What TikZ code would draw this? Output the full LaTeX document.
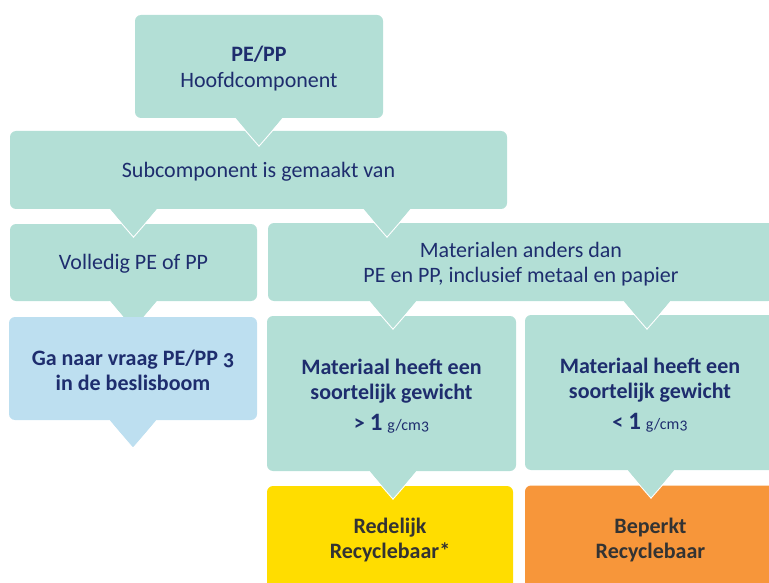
\documentclass[tikz,border=0pt]{standalone}
\usepackage{fontspec}
\setmainfont{Carlito}
\usetikzlibrary{calc}
\definecolor{tealbox}{HTML}{B3DFD6}
\definecolor{bluebox}{HTML}{BDDFF0}
\definecolor{yelbox}{HTML}{FFDD00}
\definecolor{orabox}{HTML}{F7963A}
\definecolor{navy}{HTML}{1E2D6E}
\definecolor{darktext}{HTML}{333333}
\begin{document}
\begin{tikzpicture}[x=1pt,y=-1pt,
  box/.style={rectangle, rounded corners=6pt, inner sep=0pt},
  tealnode/.style={box, fill=tealbox},
  txt/.style={inner sep=0pt, align=center, text=navy, font=\fontsize{22}{25.5}\selectfont},
  dtxt/.style={txt, text=darktext},
  pics/ptr/.style={code={
    \fill[#1] (-24,-1) -- (24,-1) -- (0,28) -- cycle;
    \draw[white, line width=0.9pt, line join=miter] (-24,0.5) -- (0,28) -- (24,0.5);
  }}]
\useasboundingbox (0,0) rectangle (769,583);
\clip (0,0) rectangle (769,583);
% level 1
\node[tealnode, minimum width=248pt, minimum height=103pt] (top) at (259,66.5) {};
\node[txt] (topT) at ($(top.center)+(0,2)$) {{\bfseries PE/PP}\\Hoofdcomponent};
\node[tealnode, minimum width=497pt, minimum height=78pt] (sub) at (258.5,170) {};
\node[txt] (subT) at ($(sub.center)+(0,2)$) {Subcomponent is gemaakt van};
\pic at (top.south) {ptr=tealbox};
% level 2
\node[tealnode, minimum width=247pt, minimum height=77pt] (voll) at (133.5,262.5) {};
\node[txt] (vollT) at ($(voll.center)+(0,1.5)$) {Volledig PE of PP};
\node[tealnode, minimum width=506pt, minimum height=78pt] (mat) at (521,262) {};
\node[txt] (matT) at ($(mat.center)+(0,2)$) {Materialen anders dan\\PE en PP, inclusief metaal en papier};
\pic at (voll.north |- sub.south) {ptr=tealbox};
\pic at ($(sub.south)+(128.5,0)$) {ptr=tealbox};
% level 3
\pic at (voll.south) {ptr=tealbox};
\node[box, fill=bluebox, minimum width=248pt, minimum height=103pt] (ga) at (133,368.5) {};
\node[txt, font=\fontsize{22}{25}\bfseries] (gaT) at ($(ga.center)+(0,1.5)$)
  {Ga naar vraag PE/PP {\addfontfeatures{Numbers=OldStyle}3}\\in de beslisboom};
\node[tealnode, minimum width=249pt, minimum height=155pt] (m1) at (391.5,393.5) {};
\node[txt, font=\fontsize{22}{25}\bfseries] (m1T) at ($(m1.center)+(0,3)$)
  {Materiaal heeft een\\soortelijk gewicht\\[6pt]
   > {\fontsize{25}{28}\selectfont 1} {\fontsize{16}{20}\mdseries g/cm{\addfontfeatures{Numbers=OldStyle}3}}};
\node[tealnode, minimum width=250pt, minimum height=155pt] (m2) at (650,392.5) {};
\node[txt, font=\fontsize{22}{25}\bfseries] (m2T) at ($(m2.center)+(0,2.5)$)
  {Materiaal heeft een\\soortelijk gewicht\\[6pt]
   < {\fontsize{25}{28}\selectfont 1} {\fontsize{16}{20}\mdseries g/cm{\addfontfeatures{Numbers=OldStyle}3}}};
\pic at (ga.south) {ptr=bluebox};
\pic at ($(mat.south)+(-128,0)$) {ptr=tealbox};
\pic at ($(mat.south)+(126,0)$) {ptr=tealbox};
% level 4
\node[box, fill=yelbox, minimum width=246pt, minimum height=107pt] (yel) at (390,539.5) {};
\node[dtxt, font=\fontsize{22}{25}\bfseries] (yelT) at ($(yel.center)+(0,1)$) {Redelijk\\Recyclebaar*};
\node[box, fill=orabox, minimum width=251pt, minimum height=107pt] (ora) at (650.5,539) {};
\node[dtxt, font=\fontsize{22}{25}\bfseries] (oraT) at ($(ora.center)+(0,1)$) {Beperkt\\Recyclebaar};
\pic at ($(m1.south)+(1.5,0)$) {ptr=tealbox};
\pic at ($(m2.south)+(1,0)$) {ptr=tealbox};
\end{tikzpicture}
\end{document}
